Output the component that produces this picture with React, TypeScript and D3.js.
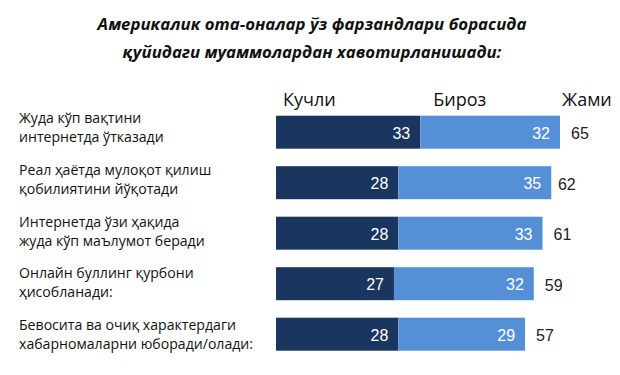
import React from "react";
import * as d3 from "d3";

const titleLines = [
  "Америкалик ота-оналар ўз фарзандлари борасида",
  "қуйидаги муаммолардан хавотирланишади:",
];
const categories = [
  ["Жуда кўп вақтини", "интернетда ўтказади"],
  ["Реал ҳаётда мулоқот қилиш", "қобилиятини йўқотади"],
  ["Интернетда ўзи ҳақида", "жуда кўп маълумот беради"],
  ["Онлайн буллинг қурбони", "ҳисобланади:"],
  ["Бевосита ва очиқ характердаги", "хабарномаларни юборади/олади:"],
];
const strong = [33, 28, 28, 27, 28];
const some = [32, 35, 33, 32, 29];
const totals = [65, 62, 61, 59, 57];
const headers = ["Кучли", "Бироз", "Жами"];

const W = 620;
const H = 375;
const DARK = "#1b365e";
const LIGHT = "#5590d7";
const LABEL_FONT = "'Open Sans', 'Noto Sans', sans-serif";
const NUM_FONT = "'Liberation Sans', Arial, sans-serif";

export default function App() {
  const keys = categories.map((_, i) => String(i));
  const x = d3.scaleLinear().domain([0, 65]).range([276, 560]);
  const y = d3
    .scaleBand<string>()
    .domain(keys)
    .range([106.95, 359.45])
    .paddingInner(0.3465)
    .paddingOuter(0.17325);
  const labelY = d3.scaleLinear().domain([0, 4]).range([123, 330]);

  return (
    <svg
      width={W}
      height={H}
      style={{ position: "absolute", left: 0, top: 0, background: "#fff" }}
    >
      <g
        fontFamily={LABEL_FONT}
        fontWeight={700}
        fontStyle="italic"
        fontSize={16.8}
        fill="#111"
        textAnchor="middle"
      >
        {titleLines.map((t, i) => (
          <text key={i} x={312} y={30 + i * 28}>
            {t}
          </text>
        ))}
      </g>

      <g fontFamily={LABEL_FONT} fontSize={18} fill="#111">
        <text x={x(0) + 7} y={106}>
          {headers[0]}
        </text>
        <text x={x(36)} y={106}>
          {headers[1]}
        </text>
        <text x={x(65) + 2} y={106}>
          {headers[2]}
        </text>
      </g>

      <g fontFamily={LABEL_FONT} fontSize={14.1} fill="#111">
        {categories.map((lines, i) => (
          <g key={i}>
            <text x={19} y={labelY(i)}>
              {lines[0]}
            </text>
            <text x={19} y={labelY(i) + 19}>
              {lines[1]}
            </text>
          </g>
        ))}
      </g>

      {keys.map((k, i) => {
        const top = y(k)!;
        const bh = y.bandwidth();
        const cy = top + bh / 2;
        return (
          <g key={k}>
            <rect
              x={x(0)}
              y={top}
              width={x(strong[i]) - x(0)}
              height={bh}
              fill={DARK}
            />
            <rect
              x={x(strong[i])}
              y={top}
              width={x(strong[i] + some[i]) - x(strong[i])}
              height={bh}
              fill={LIGHT}
            />
            <text
              x={x(strong[i]) - 10}
              y={cy + 6.5}
              textAnchor="end"
              fill="#fff"
              fontFamily={NUM_FONT}
              fontSize={16}
            >
              {strong[i]}
            </text>
            <text
              x={x(strong[i] + some[i]) - 10}
              y={cy + 6.5}
              textAnchor="end"
              fill="#fff"
              fontFamily={NUM_FONT}
              fontSize={16}
            >
              {some[i]}
            </text>
            <text
              x={x(totals[i]) + 11}
              y={cy + 7}
              fill="#222"
              fontFamily={NUM_FONT}
              fontSize={16}
            >
              {totals[i]}
            </text>
          </g>
        );
      })}
    </svg>
  );
}
